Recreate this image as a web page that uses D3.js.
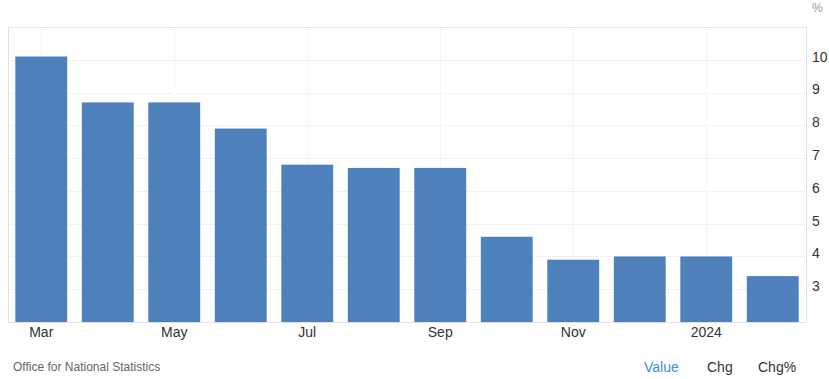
<!DOCTYPE html>
<html>
<head>
<meta charset="utf-8">
<script src="https://cdn.jsdelivr.net/npm/d3@7.9.0/dist/d3.min.js"></script>
<style>
  body { margin: 0; background: #fff; font-family: "Liberation Sans", Arial, sans-serif; }
  svg text { font-family: "Liberation Sans", Arial, sans-serif; }
</style>
</head>
<body>
<svg id="chart" width="829" height="379"></svg>
<script>
const months = ['Mar', 'Apr', 'May', 'Jun', 'Jul', 'Aug', 'Sep', 'Oct', 'Nov', 'Dec', 'Jan', 'Feb'];
const values = [10.1, 8.7, 8.7, 7.9, 6.8, 6.7, 6.7, 4.6, 3.9, 4.0, 4.0, 3.4];
const xTickLabels = { Mar: 'Mar', May: 'May', Jul: 'Jul', Sep: 'Sep', Nov: 'Nov', Jan: '2024' };
const yTicks = [3, 4, 5, 6, 7, 8, 9, 10];
const footerButtons = ['Value', 'Chg', 'Chg%'];

const svg = d3.select('#chart');
const plotLeft = 8, plotRight = 806, plotTop = 27, plotBottom = 322;

let x = d3.scaleBand().domain(months).range([plotLeft, plotRight]).paddingInner(0.22).paddingOuter(0.11);
let y = d3.scaleLinear().domain([2, 11]).range([plotBottom, plotTop]);

// gridlines
const grid = svg.append('g');
yTicks.concat([11]).forEach(t => {
    grid.append('line')
        .attr('x1', plotLeft).attr('x2', plotRight)
        .attr('y1', Math.round(y(t)) + 0.5).attr('y2', Math.round(y(t)) + 0.5)
        .attr('stroke', '#e6e6e6').attr('stroke-dasharray', t === 11 ? null : '1,1');
});
Object.keys(xTickLabels).forEach(m => {
    let cx = Math.round(x(m) + x.bandwidth() / 2) + 0.5;
    grid.append('line')
        .attr('x1', cx).attr('x2', cx).attr('y1', plotTop).attr('y2', plotBottom)
        .attr('stroke', '#ececec').attr('stroke-dasharray', '1,1');
});
[plotLeft, plotRight].forEach(xx => {
    grid.append('line')
        .attr('x1', xx + 0.5).attr('x2', xx + 0.5).attr('y1', plotTop).attr('y2', plotBottom)
        .attr('stroke', '#e2e2e2');
});
grid.append('line')
    .attr('x1', plotLeft).attr('x2', plotRight).attr('y1', plotBottom + 0.5).attr('y2', plotBottom + 0.5)
    .attr('stroke', '#e2e2e2');

// bars
svg.append('g')
    .selectAll('rect')
    .data(values)
    .join('rect')
    .attr('x', (d, i) => x(months[i]))
    .attr('width', x.bandwidth())
    .attr('y', d => y(d))
    .attr('height', d => plotBottom - y(d))
    .attr('fill', '#4e80bc');

// y axis labels (right side)
svg.append('g')
    .selectAll('text')
    .data(yTicks)
    .join('text')
    .attr('x', 812)
    .attr('y', d => y(d) - 3)
    .attr('dy', '0.35em')
    .attr('font-size', 14)
    .attr('fill', '#333')
    .text(d => d);

svg.append('text')
    .attr('x', 812).attr('y', 12)
    .attr('font-size', 12).attr('fill', '#999')
    .text('%');

// x axis labels
svg.append('g')
    .selectAll('text')
    .data(Object.keys(xTickLabels))
    .join('text')
    .attr('x', d => x(d) + x.bandwidth() / 2)
    .attr('y', 337)
    .attr('text-anchor', 'middle')
    .attr('font-size', 14)
    .attr('fill', '#333')
    .text(d => xTickLabels[d]);

// footer
svg.append('text')
    .attr('x', 13).attr('y', 371)
    .attr('font-size', 12).attr('fill', '#666')
    .text('Office for National Statistics');

const btnX = [644, 707, 758];
footerButtons.forEach((b, i) => {
    svg.append('text')
        .attr('x', btnX[i]).attr('y', 372)
        .attr('font-size', 14)
        .attr('fill', i === 0 ? '#3c8fdb' : '#333')
        .text(b);
});
</script>
</body>
</html>
